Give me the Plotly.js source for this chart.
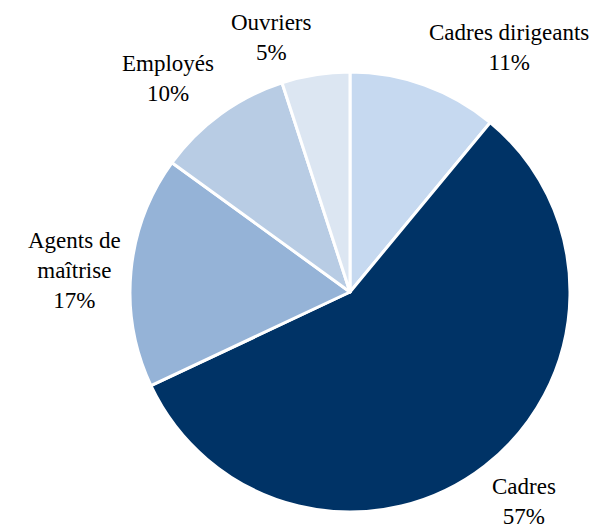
<!DOCTYPE html>
<html>
<head>
<meta charset="utf-8">
<script src="https://cdn.plot.ly/plotly-3.0.1.min.js"></script>
<style>html,body{margin:0;padding:0;background:#fff;}</style>
</head>
<body>
<div id="chart" style="width:606px;height:529px;"></div>
<script>
const categories = ["Cadres dirigeants", "Cadres", "Agents de<br>maîtrise", "Employés", "Ouvriers"];
const values = [11, 57, 17, 10, 5];
const colors = ["#c6d9f0", "#003366", "#95b3d7", "#b8cce4", "#dce6f2"];

// Label placement derived from the slice angles (clockwise from 12 o'clock)
const total = values.reduce((a, b) => a + b, 0);
const plotSize = 440;
const labelRadius = 228 / plotSize;
let cum = 0;
const annotations = values.map((v, i) => {
  const mid = (cum + v / 2) / total * 2 * Math.PI;
  cum += v;
  const s = Math.sin(mid), c = Math.cos(mid);
  return {
    xref: "paper", yref: "paper",
    x: 0.5 + labelRadius * s,
    y: 0.5 + labelRadius * c,
    xanchor: s > 0.1 ? "left" : (s < -0.1 ? "right" : "center"),
    yanchor: c > 0.3 ? "bottom" : (c < -0.3 ? "top" : "middle"),
    showarrow: false,
    align: "center",
    text: categories[i] + "<br>" + Math.round(v / total * 100) + "%",
    font: {family: "Liberation Serif", size: 23, color: "#000"}
  };
});

Plotly.newPlot("chart", [{
  type: "pie",
  labels: categories,
  values: values,
  sort: false,
  direction: "clockwise",
  rotation: 0,
  marker: {colors: colors, line: {color: "#ffffff", width: 3}},
  textposition: "none",
  showlegend: false,
  automargin: false,
  hoverinfo: "label+percent"
}], {
  width: 606, height: 529,
  margin: {l: 130, r: 36, t: 72, b: 17},
  paper_bgcolor: "#fff",
  showlegend: false,
  annotations: annotations
}, {displayModeBar: false, staticPlot: true});
</script>
</body>
</html>
